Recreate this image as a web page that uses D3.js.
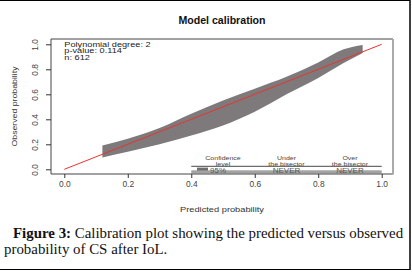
<!DOCTYPE html>
<html><head><meta charset="utf-8">
<script src="https://cdn.jsdelivr.net/npm/d3@7"></script>
<style>
html,body{margin:0;padding:0;background:#fff;}
svg{display:block;}
</style></head>
<body>
<script>
// ---- data ----
const bandX     = [0.12, 0.20, 0.30, 0.40, 0.50, 0.60, 0.70, 0.80, 0.88, 0.94];
const bandUpper = [0.19, 0.245,0.33, 0.445,0.55, 0.645,0.74, 0.855,0.96, 0.995];
const bandLower = [0.095,0.14, 0.20, 0.27, 0.35, 0.46, 0.60, 0.73, 0.85, 0.93];
const bisector  = [[0,0],[1,1]];
const xTicks = [0, 0.2, 0.4, 0.6, 0.8, 1.0];
const yTicks = [0, 0.2, 0.4, 0.6, 0.8, 1.0];
const statLines = ["Polynomial degree: 2", "p-value: 0.114", "n: 612"];
const legendHeaders = [["Confidence","level"],["Under","the bisector"],["Over","the bisector"]];
const legendValues = ["95%","NEVER","NEVER"];
const legendCols = [0.5, 0.7, 0.9];
const legendRange = [0.4, 1.0];

const W = 412, H = 272;
const svg = d3.select("body").append("svg").attr("width", W).attr("height", H);

// outer frame
svg.append("line").attr("x1",0).attr("x2",410).attr("y1",0.5).attr("y2",0.5).attr("stroke","#000");
svg.append("line").attr("x1",410).attr("x2",410).attr("y1",0).attr("y2",270).attr("stroke","#000").attr("stroke-width",1.5);
svg.append("line").attr("x1",0).attr("x2",410).attr("y1",269.5).attr("y2",269.5).attr("stroke","#000");

const box = {l:51, r:393, t:39, b:174};
const x = d3.scaleLinear().domain([0,1]).range([64.3, 381.7]);
const y = d3.scaleLinear().domain([0,1]).range([169.3, 44.3]);

const SANS = "'Liberation Sans', Arial, sans-serif";

function stext(g, str, tx, ty, size, sx, anchor, rot, opts={}) {
  const t = g.append("text")
    .attr("transform", `translate(${tx},${ty})` + (rot ? ` rotate(${rot})` : "") + ` scale(${sx},1)`)
    .attr("text-anchor", anchor)
    .attr("font-family", SANS)
    .attr("font-size", size)
    .attr("fill", opts.fill || "#222")
    .text(str);
  if (opts.weight) t.attr("font-weight", opts.weight);
  return t;
}

// title
svg.append("text").attr("x", 222).attr("y", 24).attr("text-anchor","middle")
  .attr("font-family", SANS).attr("font-weight","bold").attr("font-size", 10.6)
  .attr("fill","#111").text("Model calibration");

// band
const bandData = bandX.map((v,i)=>({x:v, lo:bandLower[i], hi:bandUpper[i]}));
const area = d3.area().x(d=>x(d.x)).y0(d=>y(d.lo)).y1(d=>y(d.hi)).curve(d3.curveMonotoneX);
svg.append("path").datum(bandData).attr("d", area).attr("fill","#7e797a");

// bisector
const line = d3.line().x(d=>x(d[0])).y(d=>y(d[1]));
svg.append("path").datum(bisector).attr("d", line).attr("fill","none").attr("stroke","#e8352f").attr("stroke-width",1);

// legend gray bar and line
svg.append("rect").attr("x", x(legendRange[0])).attr("width", x(legendRange[1])-x(legendRange[0]))
  .attr("y", 170.3).attr("height", 3.2).attr("fill","#a3a3a3");
svg.append("line").attr("x1", x(legendRange[0])).attr("x2", x(legendRange[1]))
  .attr("y1", 166.3).attr("y2", 166.3).attr("stroke","#333").attr("stroke-width",0.9);
const lg = svg.append("g");
legendHeaders.forEach((h,i)=>{
  stext(lg, h[0], x(legendCols[i]), 160, 5.4, 1.3, "middle", 0, {fill:"#444"});
  stext(lg, h[1], x(legendCols[i]), 166.2, 5.4, 1.3, "middle", 0, {fill:"#444"});
});
svg.append("rect").attr("x", 197).attr("y", 167.6).attr("width", 11).attr("height", 3).attr("fill","#6e6e6e");
legendValues.forEach((v,i)=>{
  const cx = i===0 ? 218 : x(legendCols[i]);
  stext(lg, v, cx, 173, 7.4, 1.08, "middle", 0, {fill:"#555"});
});

// plot box
svg.append("line").attr("x1",box.l).attr("x2",box.r).attr("y1",box.t).attr("y2",box.t).attr("stroke","#444");
svg.append("line").attr("x1",box.l).attr("x2",box.l).attr("y1",box.t).attr("y2",box.b).attr("stroke","#444");
svg.append("line").attr("x1",box.l).attr("x2",box.r).attr("y1",box.b).attr("y2",box.b).attr("stroke","#444");
svg.append("line").attr("x1",box.r).attr("x2",box.r).attr("y1",box.t).attr("y2",box.b+0.5).attr("stroke","#aaa").attr("stroke-width",2);

// axes
const xAxis = d3.axisBottom(x).tickValues(xTicks).tickFormat(d3.format(".1f")).tickSize(4).tickSizeOuter(0);
const gx = svg.append("g").attr("transform", `translate(0,${box.b})`).call(xAxis);
gx.select(".domain").remove();
gx.selectAll(".tick line").attr("stroke","#333");
gx.selectAll(".tick text").attr("font-family", SANS).attr("font-size", 8.4).attr("fill","#444").attr("y", 12.5).attr("dy", 0);

const yAxis = d3.axisLeft(y).tickValues(yTicks).tickFormat(d3.format(".1f")).tickSize(5).tickSizeOuter(0);
const gy = svg.append("g").attr("transform", `translate(${box.l},0)`).call(yAxis);
gy.select(".domain").remove();
gy.selectAll(".tick line").attr("stroke","#333");
gy.selectAll(".tick text").attr("font-family", SANS).attr("font-size", 8.4).attr("fill","#444")
  .attr("x", null).attr("dy", null).attr("text-anchor","middle")
  .attr("transform", "translate(-13,0) rotate(-90)");

// axis titles
stext(svg, "Predicted probability", 222, 212, 7.3, 1.27, "middle", 0, {fill:"#333"});
stext(svg, "Observed probability", 17, 106.5, 7.6, 1.15, "middle", -90, {fill:"#333"});

// stats text
statLines.forEach((s,i)=>{
  stext(svg, s, 64.3, 46.6 + i*6.6, 6.3, 1.46, "start", 0, {fill:"#222"});
});

// caption
const SERIF = "'Liberation Serif', 'Times New Roman', serif";
const cap = svg.append("text").attr("font-family", SERIF).attr("font-size", 14.9).attr("fill","#111");
const l1 = cap.append("tspan").attr("x", 13).attr("y", 238);
l1.append("tspan").attr("font-weight","bold").text("Figure 3:");
l1.append("tspan").text(" Calibration plot showing the predicted versus observed");
cap.append("tspan").attr("x", 4).attr("y", 253.5).text("probability of CS after IoL.");
</script>
</body></html>
